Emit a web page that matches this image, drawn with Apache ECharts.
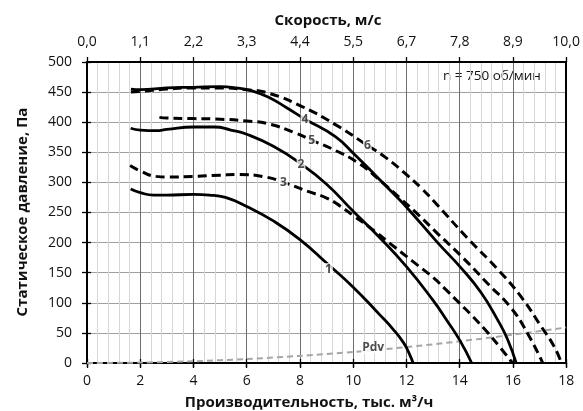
<!DOCTYPE html>
<html><head><meta charset="utf-8">
<script src="https://cdn.jsdelivr.net/npm/echarts/dist/echarts.min.js"></script>
<style>html,body{margin:0;padding:0;background:#fff}#c{width:583px;height:411px}</style>
</head><body><div id="c"></div>
<script>
// ---- data ----
const topLabels = ['0,0','1,1','2,2','3,3','4,4','5,5','6,7','7,8','8,9','10,0'];
const curve1 = [[1.64,289],[2.0,283],[2.5,279],[3,279],[4,280],[4.6,279],[5.2,275],[6,260],[7,236],[8,205],[9,166],[10,126],[11,80],[11.5,56],[11.9,33],[12.1,16],[12.25,0]];
const curve2 = [[1.64,390],[2,387],[2.6,386],[3,388],[4,392],[4.8,392],[5.4,387],[6,380],[7,360],[8,332],[9,297],[10,252],[11,208],[12,160],[13,104],[13.5,72],[14,38],[14.45,0]];
const curve3 = [[1.62,328],[2,319],[2.6,310],[3,309],[4,310],[5,312],[5.7,313],[6.7,309],[7.4,300],[8.3,285],[9,274],[9.5,261],[10,245],[10.6,226],[11.4,198],[12.2,170],[13,142],[13.5,121],[14,99],[14.5,77],[15,53],[15.5,27],[15.98,0]];
const curve4 = [[1.65,455],[2,454],[3,457],[4,458],[5,459],[5.6,457],[6.2,452],[6.84,441],[7.5,424],[8.2,405],[9.33,376],[10.08,345],[10.83,312],[11.5,282],[12.08,255],[13.17,200],[14.05,158],[14.8,117],[15.42,72],[15.8,39],[16.12,0]];
const curve5 = [[2.72,408],[3,407],[4,406],[5,405],[6,402],[6.84,397],[7.84,382],[8.45,370],[9.33,353],[10.2,332],[10.96,305],[11.83,271],[12.45,246],[13.17,215],[14.05,178],[15.05,132],[15.92,92],[16.54,50],[17.12,0]];
const curve6 = [[1.65,450],[2,451],[3,455],[4,457],[5,457],[6,454],[6.84,448],[8.08,426],[9.33,396],[10.55,361],[11.2,342],[12.08,310],[12.57,290],[13.17,262],[14.3,207],[15.42,156],[16.29,111],[17.04,62],[17.54,28],[17.82,0]];
const pdv = [[0,0],[2,0.7],[4,2.9],[6,6.6],[8,11.8],[10,18.4],[12,26.4],[14,36],[16,47],[18,59]];
const curveLabels = [['1',9.07,156],['2',8.04,329],['3',7.38,300],['4',8.19,405],['5',8.44,369],['6',10.53,361],['Pdv',10.75,25]];

const FONT = '"Open Sans", Roboto, sans-serif';
const chart = echarts.init(document.getElementById('c'), null, {renderer:'canvas'});

function solid(data){return {type:'line',data,smooth:0.5,symbol:'none',lineStyle:{color:'#000',width:2.8},silent:true,z:3};}
function dashed(data){return {type:'line',data,smooth:0.5,symbol:'none',lineStyle:{color:'#000',width:3,type:[9,5]},silent:true,z:3};}

const xBase = {type:'value',min:0,max:18,interval:2,gridIndex:0};
const tickOut = {show:true,length:5,inside:false,lineStyle:{color:'#000',width:1.3}};
const tickIn = {show:true,length:4,inside:true,lineStyle:{color:'#000',width:1.3}};
const axisLineStyle = {show:true,onZero:false,lineStyle:{color:'#000',width:2}};

chart.setOption({
  animation:false,
  backgroundColor:'#fff',
  grid:{left:87,right:14,top:62,bottom:48,containLabel:false},
  xAxis:[
    Object.assign({},xBase,{position:'bottom',axisLine:axisLineStyle,axisTick:tickOut,
      axisLabel:{fontFamily:FONT,fontSize:14,color:'#111',margin:11},
      splitLine:{show:true,lineStyle:{color:'#6e6e6e',width:1}},
      minorTick:{show:false,splitNumber:5},
      minorSplitLine:{show:true,lineStyle:{color:'#d6d6d6',width:1}}}),
    Object.assign({},xBase,{position:'top',axisLine:axisLineStyle,axisTick:tickOut,
      axisLabel:{fontFamily:FONT,fontSize:14,color:'#111',margin:13,formatter:v=>topLabels[Math.round(v/2)]},
      splitLine:{show:false}}),
    Object.assign({},xBase,{position:'bottom',axisLine:{show:false},axisTick:tickIn,axisLabel:{show:false},splitLine:{show:false}}),
    Object.assign({},xBase,{position:'top',axisLine:{show:false},axisTick:tickIn,axisLabel:{show:false},splitLine:{show:false}})
  ],
  yAxis:[
    {type:'value',min:0,max:500,interval:50,position:'left',axisLine:axisLineStyle,axisTick:tickOut,
      axisLabel:{fontFamily:FONT,fontSize:14,color:'#111',margin:15},
      splitLine:{show:true,lineStyle:{color:'#a0a0a0',width:1}}},
    {type:'value',min:0,max:500,interval:50,position:'left',axisLine:{show:false},axisTick:tickIn,axisLabel:{show:false},splitLine:{show:false}},
    {type:'value',min:0,max:500,interval:50,position:'right',axisLine:axisLineStyle,axisTick:{show:false},axisLabel:{show:false},splitLine:{show:false}}
  ],
  series:[
    {type:'line',data:pdv,smooth:0.3,symbol:'none',lineStyle:{color:'#a6a6a6',width:2,type:[6,4]},silent:true,z:2},
    solid(curve1), solid(curve2), dashed(curve3), solid(curve4), dashed(curve5), dashed(curve6),
    {type:'scatter',symbol:'circle',symbolSize:1,itemStyle:{color:'rgba(0,0,0,0)'},silent:true,z:10,
      data:curveLabels.map(l=>({name:l[0],value:[l[1],l[2]]})),
      label:{show:true,position:'inside',formatter:'{b}',fontFamily:FONT,fontSize:12,fontWeight:'bold',color:'#222',
        backgroundColor:'#fff',padding:[0,1]}}
  ],
  graphic:[
    {type:'text',x:328,y:21,silent:true,style:{text:'Скорость, м/с',font:'bold 15px '+FONT,fill:'#111',textAlign:'center',textVerticalAlign:'middle',align:'center',verticalAlign:'middle'}},
    {type:'text',x:309,y:403,silent:true,style:{text:'Производительность, тыс. м³/ч',font:'bold 15px '+FONT,fill:'#111',textAlign:'center',textVerticalAlign:'middle',align:'center',verticalAlign:'middle'}},
    {type:'text',x:23,y:212,rotation:Math.PI/2,silent:true,style:{text:'Статическое давление, Па',font:'bold 15px '+FONT,fill:'#111',textAlign:'center',textVerticalAlign:'middle',align:'center',verticalAlign:'middle'}},
    {type:'text',x:443,y:76,silent:true,style:{text:'n = 750 об/мин',font:'13.5px '+FONT,fill:'#111',textAlign:'left',textVerticalAlign:'middle',align:'left',verticalAlign:'middle'}}
  ]
});
</script></body></html>
